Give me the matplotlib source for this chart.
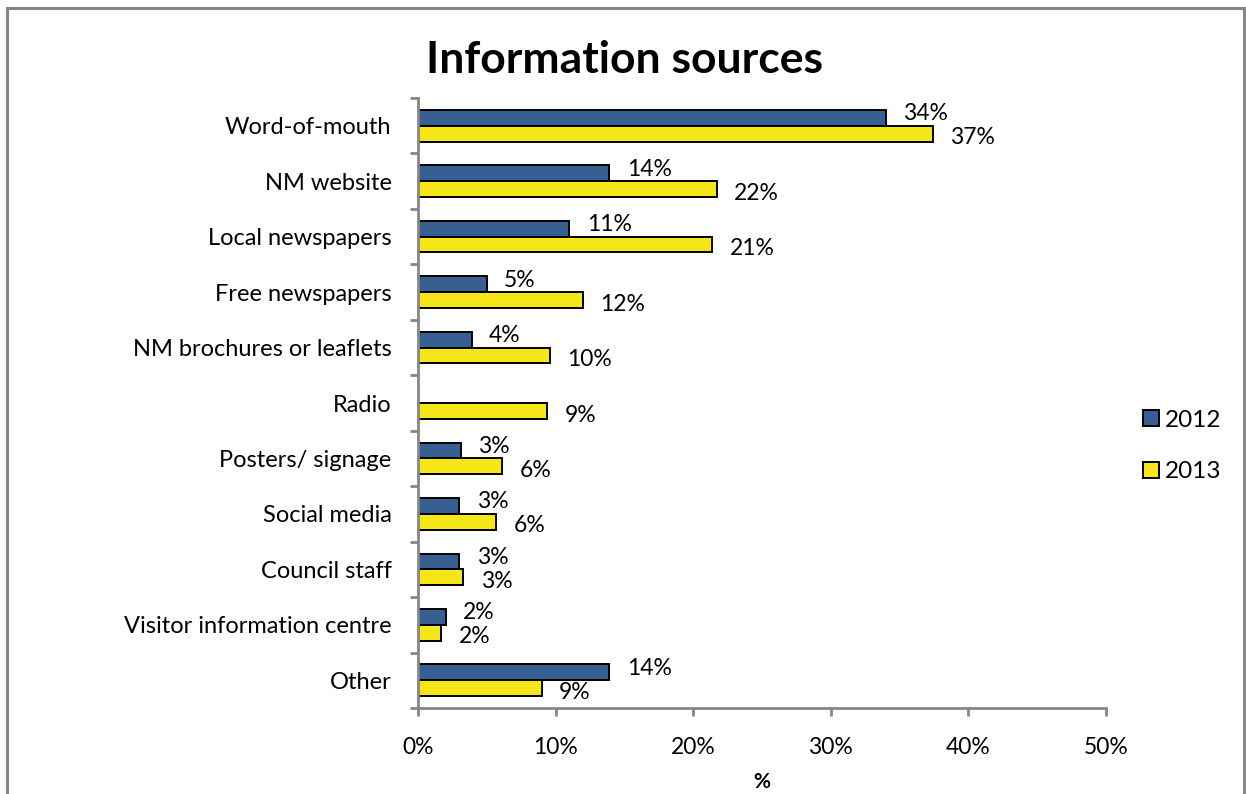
import matplotlib
matplotlib.use("Agg")
import matplotlib.pyplot as plt
from matplotlib.patches import Rectangle, Patch
from matplotlib.ticker import FixedLocator, FuncFormatter

# survey answers: where did you hear about us (share of respondents, %)
sources = ["Word-of-mouth", "NM website", "Local newspapers", "Free newspapers",
           "NM brochures or leaflets", "Radio", "Posters/ signage", "Social media",
           "Council staff", "Visitor information centre", "Other"]
share_2012 = [34.0, 13.9, 11.0, 5.0, 3.9, 0.0, 3.1, 3.0, 3.0, 2.0, 13.9]
share_2013 = [37.4, 21.7, 21.4, 12.0, 9.6, 9.4, 6.1, 5.7, 3.3, 1.7, 9.0]
years = ["2012", "2013"]

blue = "#385F91"
yellow = "#F5E617"
grey = "#868686"

plt.rcParams["font.family"] = ["Lato", "DejaVu Sans"]

W, H = 1246, 794
fig = plt.figure(figsize=(W / 100, H / 100), dpi=100)

# outer frame of the chart area (bottom edge runs off the page)
fig.patches.append(Rectangle((7 / W, -0.05), 1237 / W, (H - 8) / H + 0.05,
                             transform=fig.transFigure, fill=False,
                             edgecolor=grey, lw=2.2, zorder=0))

ax = fig.add_axes([418 / W, 1 - 708 / H, 688 / W, 610 / H])

pos = list(range(len(sources)))
bh = 0.285
ax.barh([p - bh / 2 for p in pos], share_2012, height=bh, color=blue,
        edgecolor="black", lw=1.4, label=years[0])
ax.barh([p + bh / 2 for p in pos], share_2013, height=bh, color=yellow,
        edgecolor="black", lw=1.4, label=years[1])

# value labels, skipped where there is no bar
for p, v in zip(pos, share_2012):
    if v > 0:
        ax.annotate(f"{v:.0f}%", (v, p - bh / 2), xytext=(12.5, 3),
                    textcoords="offset points", ha="left", va="center", fontsize=16.5)
for p, v in zip(pos, share_2013):
    if v > 0:
        ax.annotate(f"{v:.0f}%", (v, p + bh / 2), xytext=(12.5, -3),
                    textcoords="offset points", ha="left", va="center", fontsize=16.5)

ax.set_xlim(0, 50)
ax.set_ylim(len(sources) - 0.5, -0.5)

ax.set_xticks(range(0, 51, 10))
ax.xaxis.set_major_formatter(FuncFormatter(lambda x, _: f"{x:.0f}%"))
ax.set_yticks(pos)
ax.set_yticklabels(sources)
ax.yaxis.set_minor_locator(FixedLocator([p - 0.5 for p in range(len(sources) + 1)]))

ax.tick_params(axis="y", which="major", length=0, pad=19, labelsize=17)
ax.tick_params(axis="y", which="minor", length=6, width=2, color=grey, direction="out")
ax.tick_params(axis="x", length=6, width=2, color=grey, direction="out",
               pad=15, labelsize=16.5)

for s in ["top", "right"]:
    ax.spines[s].set_visible(False)
for s in ["left", "bottom"]:
    ax.spines[s].set_color(grey)
    ax.spines[s].set_linewidth(2)

ax.set_xlabel("%", fontsize=15, fontweight="bold", labelpad=10)

fig.text(625 / W, 1 - 60 / H, "Information sources", ha="center", va="center",
         fontsize=32, fontweight="bold")

handles = [Patch(facecolor=blue, edgecolor="black", lw=1.4),
           Patch(facecolor=yellow, edgecolor="black", lw=1.4)]
fig.legend(handles, years, loc="center left", bbox_to_anchor=(1121 / W, 1 - 446 / H),
           frameon=False, fontsize=17.5, handlelength=0.65, handleheight=0.65,
           handletextpad=0.25, labelspacing=1.25)

fig.savefig("out.png", dpi=100)
